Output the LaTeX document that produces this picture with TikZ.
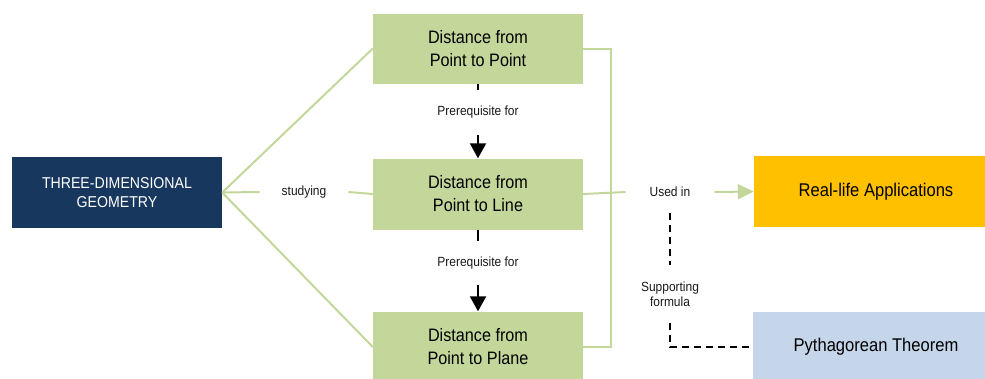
\documentclass[tikz,border=0pt]{standalone}
\usepackage{fontspec}
\setmainfont{Liberation Sans}[FakeStretch=0.9]
\usetikzlibrary{arrows.meta}

\definecolor{navy}{HTML}{17375E}
\definecolor{leaf}{HTML}{C4D79B}
\definecolor{amber}{HTML}{FFC000}
\definecolor{sky}{HTML}{C5D5EA}

\begin{document}
\begin{tikzpicture}[x=1pt,y=-1pt,
    box/.style={minimum width=210pt, minimum height=71pt, inner sep=0pt,
        align=center, font=\fontsize{18}{23}\selectfont},
    lbl/.style={inner sep=0pt, align=center, text=black!90,
        font=\fontsize{13.3}{15}\selectfont},
    gline/.style={draw=leaf, line width=2pt},
    bline/.style={draw=black, line width=2pt},
    dline/.style={draw=black, line width=2pt, dash pattern=on 7pt off 5pt}
]

            %---------------- MARCO ----------------
            \useasboundingbox (0,0) rectangle (985,378);
            \clip (0,0) rectangle (985,378);

            %---------------- CAJAS ----------------
            \node[box, fill=navy, text=white, font=\fontsize{15.7}{19}\selectfont]
            (geo) at (117,192.5) {THREE-DIMENSIONAL\\GEOMETRY};

            \node[box, fill=leaf, minimum height=70pt]
            (p2p) at (478,48.5) {Distance from\\Point to Point};

            \node[box, fill=leaf]
            (p2l) at (478,194) {Distance from\\Point to Line};

            \node[box, fill=leaf]
            (p2pl) at (478,347) {Distance from\\Point to Plane};

            % las cajas de la derecha salen un poco del marco
            \node[box, fill=amber, minimum width=244pt, font=\fontsize{18.4}{23}\selectfont]
            (real) at (876,191.5) {Real-life Applications};

            \node[box, fill=sky, minimum width=246pt, font=\fontsize{18.4}{23}\selectfont]
            (pyth) at (876,347) {Pythagorean Theorem};

            %---------------- ETIQUETAS ----------------
            \node[lbl, inner xsep=22pt] (study) at (304,192) {studying};
            \node[lbl, inner ysep=16pt] (pre1) at (478,112.5) {Prerequisite for};
            \node[lbl, inner ysep=16pt] (pre2) at (478,263) {Prerequisite for};
            \node[lbl, inner xsep=24pt, inner ysep=16pt] (used) at (670,192) {Used in};
            \node[lbl, inner ysep=16pt] (sup) at (670,294) {Supporting\\formula};

            %---------------- CONEXIONES VERDES ----------------
            \draw[gline] (geo.east) -- (p2p.west);
            \draw[gline] (geo.east) -- (study.west);
            \draw[gline] (study.east) -- (p2l.west);
            \draw[gline] (geo.east) -- (p2pl.west);

            \coordinate (brk) at (611,192);
            \draw[gline]
            (p2p.east) -- (p2p.east -| brk)
            -- (p2pl.east -| brk) -- (p2pl.east);

            \draw[gline] (p2l.east) -- (used.west);
            \draw[gline, -{Triangle[width=15pt,length=16pt]}]
            (used.east) -- (real.west);

            %---------------- PRERREQUISITOS ----------------
            \draw[bline] (p2p.south) -- (pre1.north);
            \draw[bline, -{Triangle[width=16pt,length=15pt]}]
            (pre1.south) -- (p2l.north);

            \draw[bline] (p2l.south) -- (pre2.north);
            \draw[bline, -{Triangle[width=16pt,length=15pt]}]
            (pre2.south) -- (p2pl.north);

            %---------------- FORMULA DE APOYO ----------------
            \draw[dline] (used.south) -- (sup.north);
            \draw[dline] (sup.south) |- (pyth.west);

\end{tikzpicture}
\end{document}
